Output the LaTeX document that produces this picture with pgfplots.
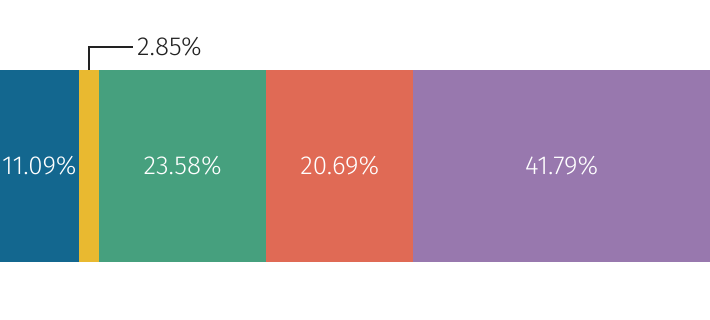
\documentclass[border=0pt]{standalone}
\usepackage{fontspec}
\setmainfont{Fira Sans Light}
\usepackage{pgfplots}
\pgfplotsset{compat=1.18}

\definecolor{cBlue}{HTML}{13678F}
\definecolor{cYellow}{HTML}{E9B930}
\definecolor{cGreen}{HTML}{46A07E}
\definecolor{cRed}{HTML}{E06A55}
\definecolor{cPurple}{HTML}{9878AE}
\definecolor{cText}{HTML}{222222}

\begin{document}
\begin{tikzpicture}
\begin{axis}[
  name=ax,
  width=710pt, height=320pt, scale only axis,
  xmin=0, xmax=100, ymin=0, ymax=320,
  hide axis, clip=false,
  xbar stacked, bar width=192,
  point meta=explicit,
  /pgf/number format/assume math mode=true,
  nodes near coords={\pgfmathprintnumber[fixed,fixed zerofill,precision=2]{\pgfplotspointmeta}\%},
  every node near coord/.append style={font=\fontsize{26}{30}\selectfont, text=white},
  every axis plot/.append style={draw=none},
]
\addplot[fill=cBlue] coordinates {(11.09,154) [11.09]};
\addplot[fill=cYellow, nodes near coords=] coordinates {(2.85,154) [2.85]};
\addplot[fill=cGreen] coordinates {(23.58,154) [23.58]};
\addplot[fill=cRed] coordinates {(20.69,154) [20.69]};
\addplot[fill=cPurple] coordinates {(41.79,154) [41.79]};
% callout for the thin segment
\draw[cText, line width=1.6pt] (axis cs:12.515,250) |- (axis cs:18.7,273);
\node[anchor=west, text=cText, font=\fontsize{26}{30}\selectfont, inner sep=0pt]
  at (axis cs:19.3,273) {2.85\%};
\end{axis}
\pgfresetboundingbox
\path (ax.south west) rectangle (ax.north east);
\end{tikzpicture}
\end{document}
